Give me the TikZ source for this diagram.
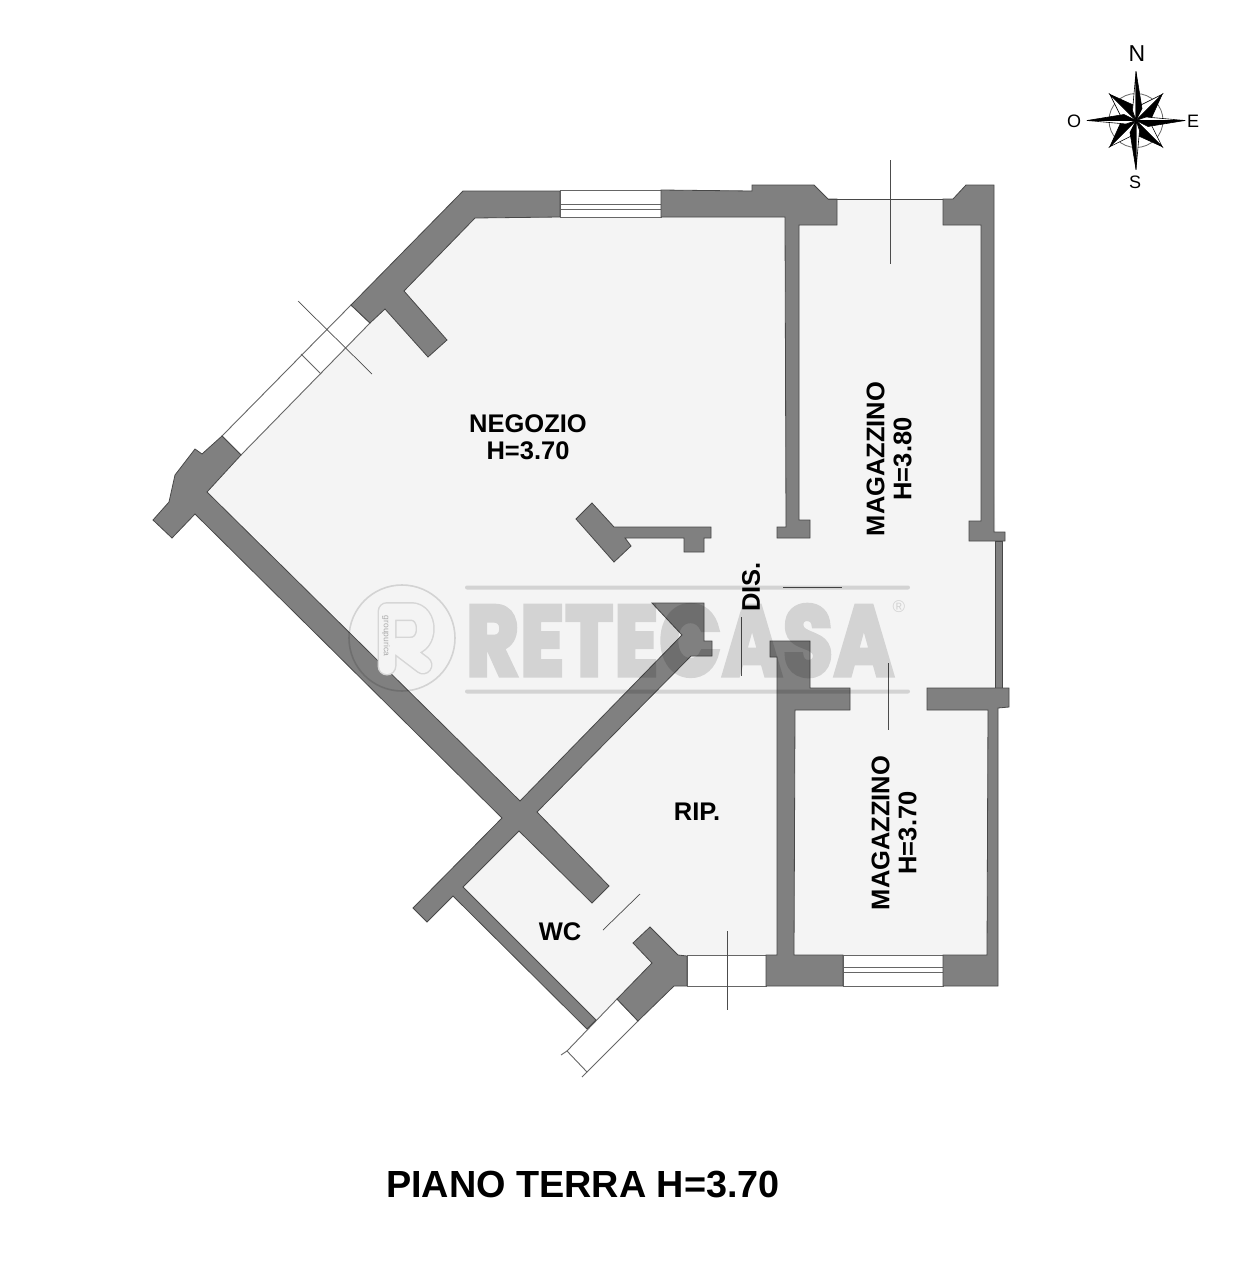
\documentclass[tikz,border=0pt]{standalone}
\usepackage{fontspec}
\usepackage{graphicx}
\setmainfont{Liberation Sans}
\newfontfamily\markfont[FakeBold=5,LetterSpace=2]{Poppins Bold}
\definecolor{wallgrey}{HTML}{808080}
\definecolor{walledge}{HTML}{484848}
\definecolor{floorgrey}{HTML}{F4F4F4}
\definecolor{logogrey}{HTML}{D6D6D6}
\tikzset{
    floorpoly/.style={fill=floorgrey, draw=none},
    wallpoly/.style={fill=wallgrey, draw=walledge, line width=0.8pt, line join=miter},
    windowbox/.style={fill=white, draw=wallgrey!80!black, line width=0.9pt},
    glassline/.style={draw=wallgrey!80!black, line width=0.9pt},
    doorline/.style={draw=black!70, line width=0.7pt},
    roomlabel/.style={font=\bfseries\fontsize{25.5}{27}\selectfont, align=center, inner sep=0pt},
    compasslabel/.style={font=\fontsize{18}{20}\selectfont, inner sep=0pt},
    logoline/.style={draw=black, line width=4pt, line cap=round},
}
\begin{document}
\begin{tikzpicture}[x=1pt, y=-1pt]
    \useasboundingbox (0,0) rectangle (1260,1280);

    % floor
    \path[floorpoly] (207,492) -- (241,455) -- (370,323) -- (475,217) -- (785,217) -- (828,199)
        -- (953,199) -- (985,225) -- (996,540) -- (996,690) -- (992,710) -- (992,955) -- (678,955)
        -- (652,963) -- (617,999) -- (596,1020) -- (463,887) -- (510,825) -- cycle;

    % windows
    \path[windowbox] (560,190) rectangle (661,217);
    \draw[glassline] (560,204) -- (661,204) (560,209) -- (661,209);
    \path[windowbox] (687,955) rectangle (766,986);
    \path[windowbox] (843,955) rectangle (943,986);
    \draw[glassline] (843,967) -- (943,967) (843,972) -- (943,972);
    \path[windowbox] (351,305) -- (370,323) -- (241,455) -- (222,436) -- cycle;
    \draw[glassline] (301,354) -- (321,374);
    \path[windowbox] (617,999) -- (638,1021) -- (587,1072) -- (567,1051) -- cycle;
    \draw[glassline] (567,1051) -- (561,1055) (587,1072) -- (582,1077);

    % walls
    \path[wallpoly] (222,436) -- (241,455) -- (207,492) -- (520,801) -- (682,635) -- (652,603)
        -- (704,603) -- (704,641) -- (712,641) -- (712,656) -- (691,656) -- (537,812) -- (609,886)
        -- (592,903) -- (519,831) -- (463,887) -- (596,1020) -- (587,1029) -- (453,896) -- (427,922)
        -- (413,908) -- (502,818) -- (195,514) -- (172,538) -- (153,520) -- (169,502) -- (175,475)
        -- (195,449) -- (202,454) -- cycle;
    \path[wallpoly] (351,305) -- (463,191) -- (560,191) -- (560,217) -- (475,218) -- (404,291)
        -- (447,340) -- (428,357) -- (385,309) -- (370,323) -- cycle;
    \path[wallpoly] (661,190) -- (752,191) -- (752,185) -- (814,185) -- (828,199) -- (837,199)
        -- (837,225) -- (799,225) -- (799,520) -- (810,520) -- (810,538) -- (777,538) -- (777,527)
        -- (786,527) -- (785,217) -- (661,217) -- cycle;
    \path[wallpoly] (943,199) -- (953,199) -- (966,185) -- (994,185) -- (994,532) -- (1005,532)
        -- (1005,541) -- (969,541) -- (969,521) -- (981,521) -- (981,225) -- (943,225) -- cycle;
    \path[wallpoly] (995,541) rectangle (1002,688);
    \path[wallpoly] (927,688) -- (1009,688) -- (1009,707) -- (998,708) -- (998,986) -- (943,986)
        -- (943,955) -- (987,955) -- (988,710) -- (927,710) -- cycle;
    \path[wallpoly] (770,641) -- (810,641) -- (810,688) -- (850,688) -- (850,710) -- (795,710)
        -- (794,955) -- (843,955) -- (843,986) -- (766,986) -- (766,955) -- (777,955) -- (777,657)
        -- (770,657) -- cycle;
    \path[wallpoly] (592,503) -- (614,527) -- (711,527) -- (711,538) -- (704,538) -- (704,552)
        -- (684,552) -- (684,538) -- (625,538) -- (631,546) -- (614,562) -- (576,519) -- cycle;
    \path[wallpoly] (617,999) -- (638,1021) -- (674,986) -- (687,986) -- (687,956) -- (678,955)
        -- (650,927) -- (633,943) -- (652,963) -- cycle;

    % openings and door marks
    \draw[walledge, line width=0.8pt] (828,199) -- (943,199);
    \draw[doorline] (298,301) -- (372,374);
    \draw[doorline] (890,160) -- (890,264);
    \draw[doorline] (741,617) -- (741,676);
    \draw[doorline] (783,587) -- (842,587);
    \draw[doorline] (888,663) -- (888,730);
    \draw[doorline] (603,930) -- (640,894);
    \draw[doorline] (727,931) -- (727,1010);

    % watermark
    \draw[logogrey, line width=19pt, line cap=round, line join=round]
        (387,666) -- (387,611.5) -- (411,611.5) .. controls (430,611.5) and (430,646) .. (411,646) -- (398,646) -- (423,665);
    \draw[floorgrey, line width=16pt, line cap=round, line join=round]
        (387,666) -- (387,611.5) -- (411,611.5) .. controls (430,611.5) and (430,646) .. (411,646) -- (398,646) -- (423,665);
    \node[inner sep=0pt, text=logogrey!80!black, rotate=-90, font=\fontsize{8.5}{9}\selectfont] (logogroup) at (386,636) {groupurica};
    \begin{scope}[transparency group, opacity=0.135, line join=round]
        \draw[logoline] (467,587.5) -- (908,587.5);
        \draw[logoline] (467,691.5) -- (908,691.5);
        \draw[draw=black, line width=1.6pt] (402,638) circle (53);
        \node[inner sep=0pt, text=black] (logotext) at (680,640.5)
            {\resizebox{427pt}{70pt}{\markfont RETECASA}};
        \node[inner sep=0pt, text=black, font=\fontsize{17}{17}\selectfont] (logomark) at (899,607) {®};
    \end{scope}

    % room labels
    \node[roomlabel] (negozio) at (528,437) {NEGOZIO\\H=3.70};
    \node[roomlabel, rotate=90] (magazzinoa) at (889,459) {MAGAZZINO\\H=3.80};
    \node[roomlabel, rotate=90] (magazzinob) at (894,833) {MAGAZZINO\\H=3.70};
    \node[roomlabel, rotate=90] (dis) at (751,587) {DIS.};
    \node[roomlabel] (rip) at (697,812) {RIP.};
    \node[roomlabel] (wc) at (560,932) {WC};
    \node[inner sep=0pt, font=\bfseries\fontsize{37.8}{40}\selectfont] (title) at (583,1184) {PIANO TERRA H=3.70};

    % compass
    \begin{scope}[shift={(1136,120.5)}]
        \draw[black!60, line width=0.8pt] (0,0) circle (27);
        \foreach \ang in {45,135,225,315} {
            \begin{scope}[rotate=\ang]
                \path[fill=white, draw=black, line width=0.6pt] (0,0) -- (0,-37) -- (-8,-13) -- cycle;
                \path[fill=black, draw=black, line width=0.6pt] (0,0) -- (0,-37) -- (9,-13) -- cycle;
            \end{scope}
        }
        \foreach \ang in {0,90,180,270} {
            \begin{scope}[rotate=\ang]
                \path[fill=white, draw=black, line width=0.6pt] (0,0) -- (0,-49) -- (-3.5,-10) -- cycle;
                \path[fill=black, draw=black, line width=0.6pt] (0,0) -- (0,-49) -- (6,-12) -- cycle;
            \end{scope}
        }
    \end{scope}
    \node[compasslabel, font=\fontsize{23}{25}\selectfont] (north) at (1137,54) {N};
    \node[compasslabel] (south) at (1135,182) {S};
    \node[compasslabel] (west) at (1074,121) {O};
    \node[compasslabel] (east) at (1193,121) {E};
\end{tikzpicture}
\end{document}
